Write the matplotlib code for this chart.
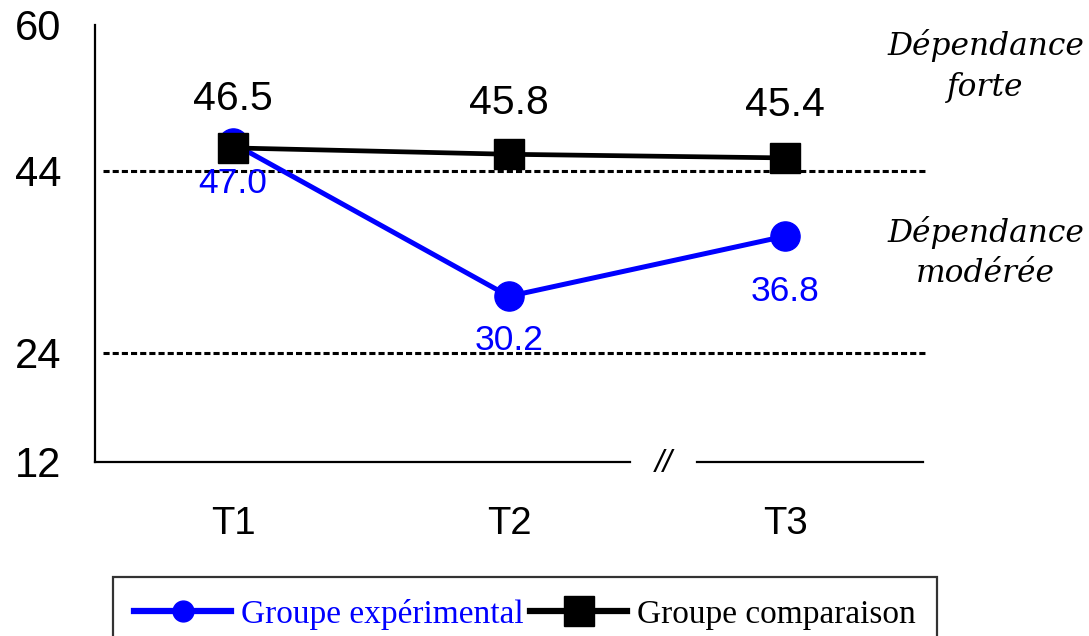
import matplotlib
matplotlib.use("Agg")
import matplotlib.pyplot as plt

# Data
times = ["T1", "T2", "T3"]
experimental = [47.0, 30.2, 36.8]
comparison = [46.5, 45.8, 45.4]
y_ticks = [12, 24, 44, 60]
thresholds = [24, 44]

# label offsets (points, positive = up)
exp_offsets = [-29, -32, -40]
comp_offsets = [35, 37, 38]

BLUE = "#0000FF"

fig = plt.figure(figsize=(10.89, 6.36), dpi=100)
ax = fig.add_axes([0.0872, 0.2736, 0.7604, 0.6871])

x = list(range(len(times)))

for level in thresholds:
    ax.plot([-0.47, 2.51], [level, level], color="black", lw=2.2,
            linestyle=(0, (2.0, 1.0)), clip_on=False, zorder=1)

ax.plot(x, experimental, color=BLUE, lw=3.6, marker="o", markersize=21,
        label="Groupe expérimental", zorder=3)
ax.plot(x, comparison, color="black", lw=3.4, marker="s", markersize=21,
        label="Groupe comparaison", zorder=4)

for xi, v, off in zip(x, experimental, exp_offsets):
    ax.annotate(f"{v:.1f}", (xi, v), xytext=(0, off), textcoords="offset points",
                ha="center", va="center", color=BLUE, fontsize=25.5,
                family="Liberation Sans")
for xi, v, off in zip(x, comparison, comp_offsets):
    ax.annotate(f"{v:.1f}", (xi, v), xytext=(0, off), textcoords="offset points",
                ha="center", va="center", color="black", fontsize=29.5,
                family="Liberation Sans")

ax.set_xlim(-0.5, 2.5)
ax.set_ylim(12, 60)
ax.set_xticks(x)
ax.set_xticklabels(times, fontsize=27.5, family="Liberation Sans")
ax.set_yticks(y_ticks)
ax.set_yticklabels([str(t) for t in y_ticks], fontsize=30, family="Liberation Sans")
ax.tick_params(axis="x", length=0, pad=32)
ax.tick_params(axis="y", length=0, pad=24)

for side in ["top", "right", "bottom"]:
    ax.spines[side].set_visible(False)
ax.spines["left"].set_linewidth(1.6)

# broken x axis
ax.plot([0, 0.646], [0, 0], transform=ax.transAxes, color="black", lw=1.6, clip_on=False)
ax.plot([0.727, 1.0], [0, 0], transform=ax.transAxes, color="black", lw=1.6, clip_on=False)
ax.text(0.6865, -0.005, "//", transform=ax.transAxes, ha="center", va="center",
        fontsize=23, style="italic", family="Liberation Sans")

# zone labels on the right
zone_font = dict(family="DejaVu Serif", style="italic", fontsize=22.5, ha="center", va="center")
fig.text(0.905, 0.929, "Dépendance", **zone_font)
fig.text(0.905, 0.862, "forte", **zone_font)
fig.text(0.905, 0.635, "Dépendance", **zone_font)
fig.text(0.905, 0.570, "modérée", **zone_font)

leg = fig.legend(loc="upper center", bbox_to_anchor=(0.482, 0.093), ncol=2,
                 frameon=True, fancybox=False, edgecolor="black",
                 prop={"family": "Liberation Serif", "size": 24},
                 labelcolor=[BLUE, "black"], handlelength=2.9, handletextpad=0.3,
                 columnspacing=0.2, borderpad=0.65, borderaxespad=0)
leg.get_frame().set_linewidth(1.6)
handles = leg.legend_handles
handles[0].set_markersize(15)
handles[0].set_linewidth(4.5)
handles[1].set_markersize(21)
handles[1].set_linewidth(4.5)

fig.savefig("out.png", dpi=100)
